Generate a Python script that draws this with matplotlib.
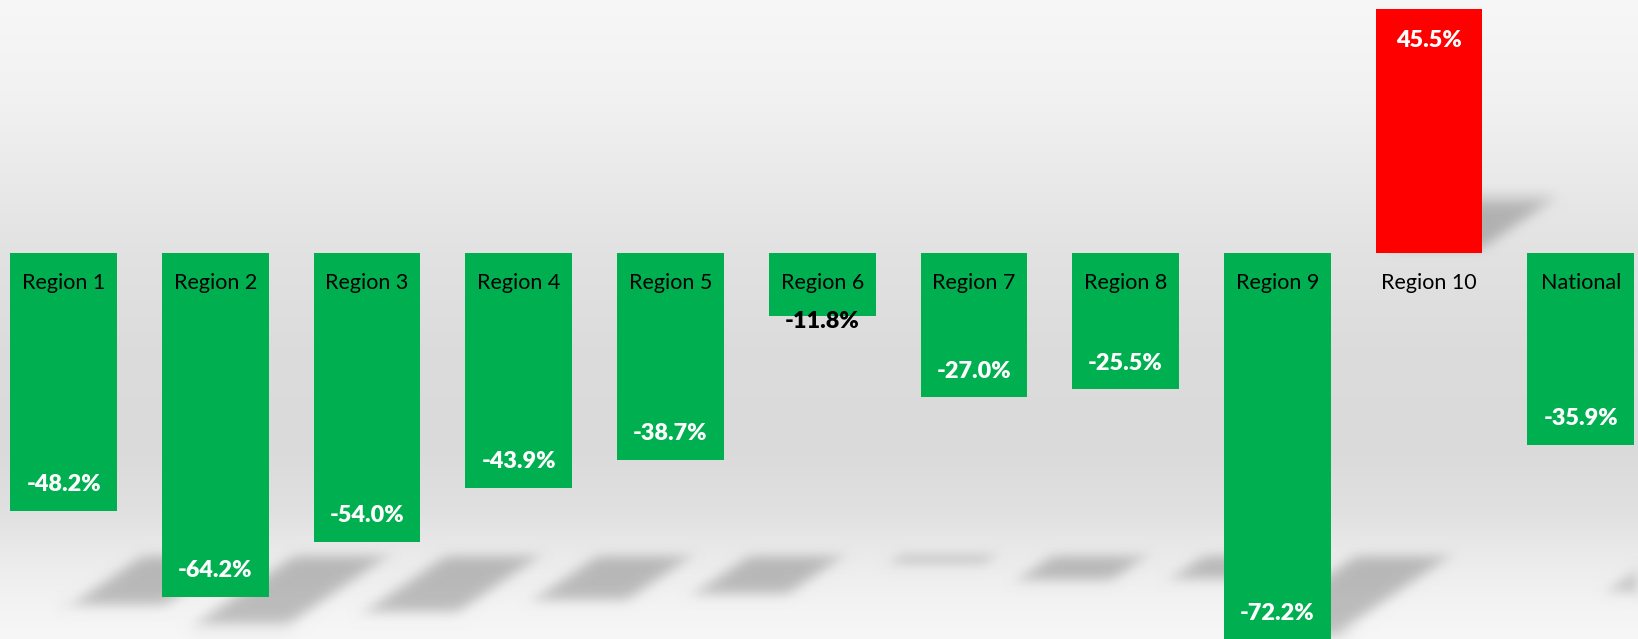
import numpy as np
import matplotlib
matplotlib.use("Agg")
import matplotlib.pyplot as plt
from matplotlib.collections import PolyCollection

plt.rcParams['font.family'] = ['Lato', 'DejaVu Sans']

# ---- data ----
categories = ["Region 1", "Region 2", "Region 3", "Region 4", "Region 5", "Region 6",
              "Region 7", "Region 8", "Region 9", "Region 10", "National"]
values = [-48.2, -64.2, -54.0, -43.9, -38.7, -11.8, -27.0, -25.5, -72.2, 45.5, -35.9]
value_labels = ["-48.2%", "-64.2%", "-54.0%", "-43.9%", "-38.7%", "-11.8%",
                "-27.0%", "-25.5%", "-72.2%", "45.5%", "-35.9%"]

GREEN = "#00B050"
RED = "#FF0000"

fig = plt.figure(figsize=(16.38, 6.39), dpi=100)
ax = fig.add_axes([0, 0, 1, 1])
ax.set_xlim(-0.420, 10.378)
ax.set_ylim(-72.12, 47.21)
ax.axis('off')

# ---- background gradient ----
stops = [(0.0, 0.968), (0.15, 0.948), (0.40, 0.885), (0.55, 0.862), (0.70, 0.855),
         (0.80, 0.88), (0.88, 0.925), (0.95, 0.955), (1.0, 0.968)]
t = np.linspace(0, 1, 640)
g = np.interp(t, [s[0] for s in stops], [s[1] for s in stops])
rgb = np.dstack([np.repeat(g[:, None], 4, axis=1)] * 3)
ax.imshow(rgb, extent=[0, 1, 0, 1], transform=ax.transAxes, aspect='auto',
          zorder=0, interpolation='bilinear')


# ---- blurred shadows ----
def smooth1d(x, sigma):
    r = int(3 * sigma)
    k = np.exp(-0.5 * (np.arange(-r, r + 1) / sigma) ** 2)
    k /= k.sum()
    return np.convolve(x, k, mode='same')


class GaussBlur:
    def __init__(self, sigma):
        self.sigma = sigma

    def __call__(self, im, dpi):
        pad = int(3 * self.sigma) + 2
        src = np.pad(im, [(pad, pad), (pad, pad), (0, 0)], "constant")
        out = np.empty_like(src)
        for c in range(4):
            a = src[:, :, c]
            a = np.apply_along_axis(smooth1d, 0, a, self.sigma)
            a = np.apply_along_axis(smooth1d, 1, a, self.sigma)
            out[:, :, c] = a
        return out, -pad, -pad


w = 0.703
shadow_top = -55.9       # where the shadows of negative bars start
k_dy = 0.22              # shadow length relative to value
k_dx = 0.01128           # horizontal skew per unit of value
off = 0.864              # shift of negative shadows
polys = []
for i, v in enumerate(values):
    h = abs(v)
    if v < 0:
        x0 = i - w / 2 + off
        y0 = shadow_top
        y1 = y0 - k_dy * h
        dx = -k_dx * h
    else:
        x0 = i - w / 2
        y0 = 0
        y1 = k_dy * h
        dx = k_dx * h
    polys.append([(x0, y0), (x0 + w, y0), (x0 + w + dx, y1), (x0 + dx, y1)])
pc = PolyCollection(polys, facecolors=(0, 0, 0, 0.23), edgecolors='none', zorder=1)
pc.set_agg_filter(GaussBlur(5.5))
pc.set_rasterized(True)
ax.add_collection(pc)

# ---- bars ----
colors = [RED if v > 0 else GREEN for v in values]
x = np.arange(len(categories))
ax.bar(x, values, width=w, color=colors, zorder=2, linewidth=0)

# ---- labels ----
for i, (cat, v, lab) in enumerate(zip(categories, values, value_labels)):
    ax.text(i, -5.64, cat, ha='center', va='center', fontsize=15.5,
            color='black', zorder=3)
    if v > 0:
        ax.text(i, v - 5.8, lab, ha='center', va='center', fontsize=16.8,
                fontweight='heavy', color='white', zorder=3)
    elif abs(v) < 15:
        ax.text(i, v - 1.1, lab, ha='center', va='center', fontsize=16.8,
                fontweight='heavy', color='black', zorder=3)
    else:
        ax.text(i, v + 4.9, lab, ha='center', va='center', fontsize=16.8,
                fontweight='heavy', color='white', zorder=3)

fig.savefig("out.png", dpi=100)
